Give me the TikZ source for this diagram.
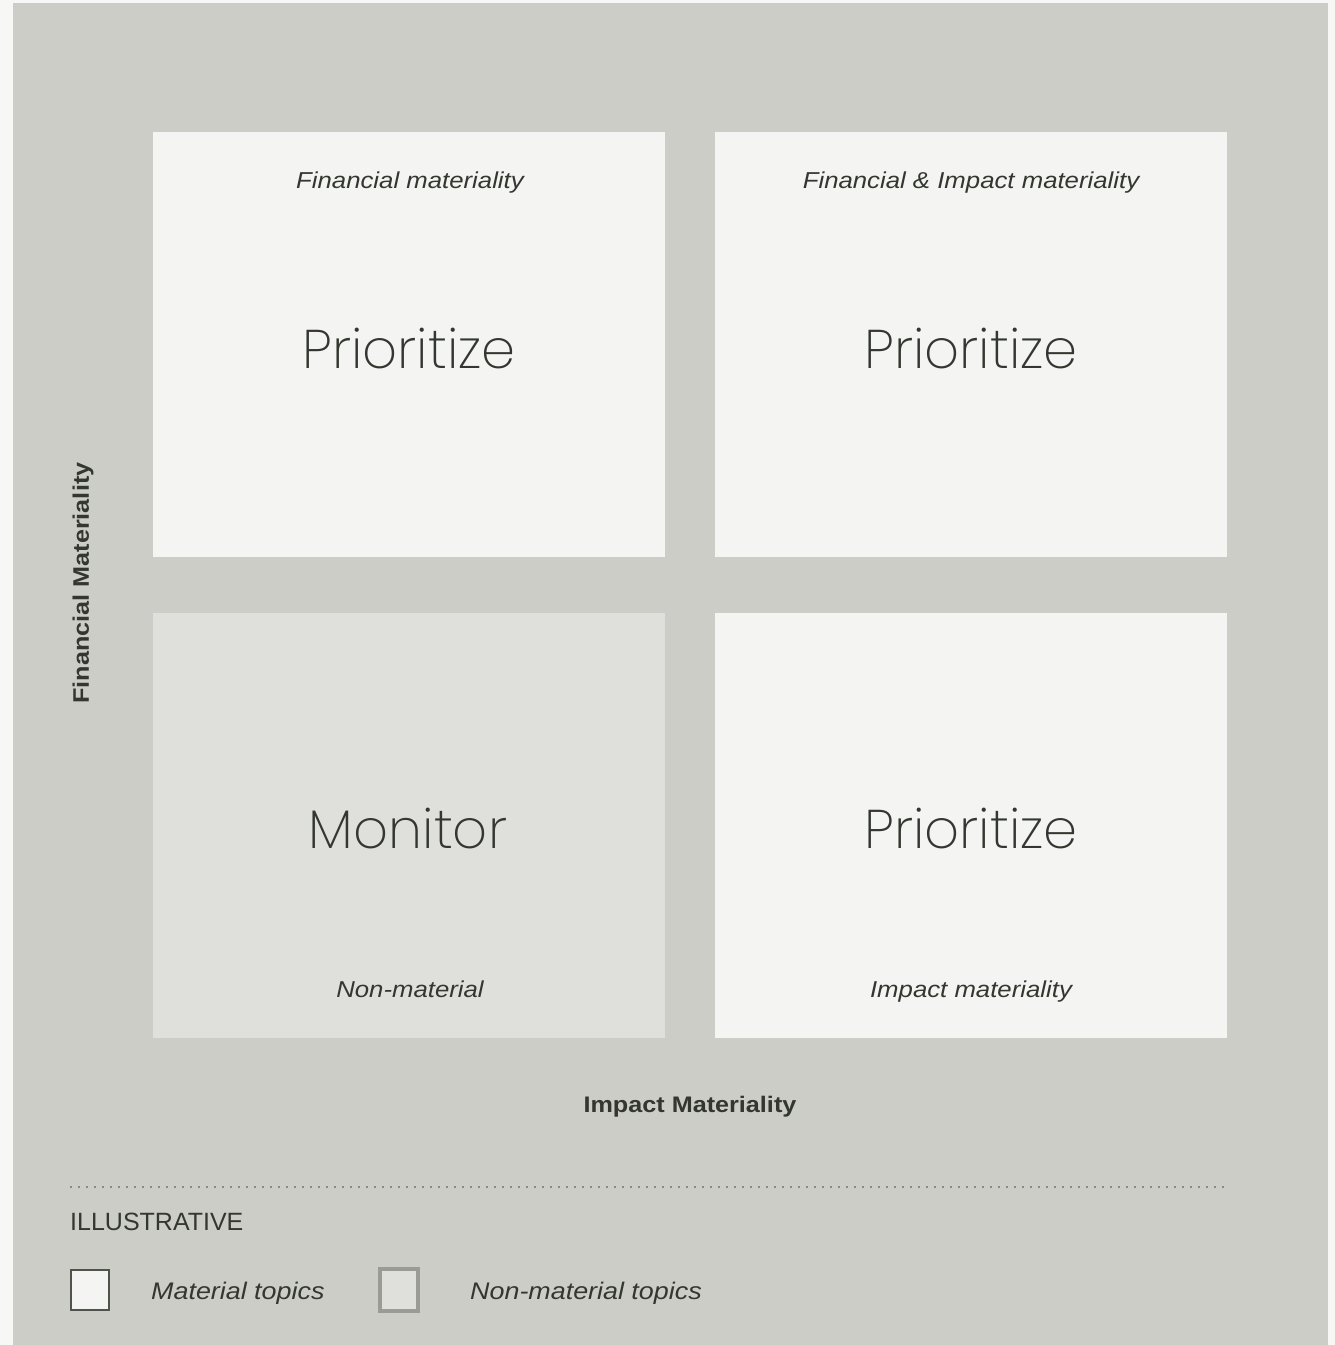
\documentclass[tikz,border=0pt]{standalone}
\usepackage{fontspec}
\setmainfont{Liberation Sans}
\newfontfamily\widefont[FakeStretch=1.12]{Liberation Sans}
\newfontfamily\lightfont{Poppins ExtraLight}
\definecolor{pagebg}{HTML}{F7F7F6}
\definecolor{panel}{HTML}{CCCDC7}
\definecolor{tile}{HTML}{F4F4F2}
\definecolor{tiledark}{HTML}{DFDFDB}
\definecolor{ink}{HTML}{33372F}
\definecolor{dotc}{HTML}{8A8C86}
\definecolor{boxedge}{HTML}{4E534C}
\definecolor{boxedge2}{HTML}{9A9B95}
\begin{document}
\begin{tikzpicture}[x=1pt,y=-1pt,
  quad/.style={fill=tile,draw=none,minimum width=512pt,minimum height=425pt,inner sep=0pt,anchor=north west},
  quaddark/.style={quad,fill=tiledark},
  bigword/.style={font=\lightfont\fontsize{54.5}{58}\selectfont,text=ink},
  sublabel/.style={font=\widefont\itshape\fontsize{23}{27}\selectfont,text=ink,anchor=base},
  legendlabel/.style={font=\widefont\itshape\fontsize{24}{28}\selectfont,text=ink},
  axislabel/.style={font=\widefont\bfseries\fontsize{22.5}{27}\selectfont,text=ink}]
\useasboundingbox (0,0) rectangle (1335,1345);
\fill[pagebg] (0,0) rectangle (1335,1345);
\fill[panel] (13,3) rectangle (1328,1345);
% quadrants
\node[quad] (tl) at (153,132) {};
\node[quad] (tr) at (715,132) {};
\node[quaddark] (bl) at (153,613) {};
\node[quad] (br) at (715,613) {};
% big words
\node[bigword] (ptl) at (409,348) {Prioritize};
\node[bigword] (ptr) at (971,348) {Prioritize};
\node[bigword] (mbl) at (408,828) {Monitor};
\node[bigword] (pbr) at (971,828) {Prioritize};
% sub labels
\node[sublabel] (ltl) at (410,188) {Financial materiality};
\node[sublabel] (ltr) at (971,188) {Financial \& Impact materiality};
\node[sublabel] (lbl) at (410,997) {Non-material};
\node[sublabel] (lbr) at (971,997) {Impact materiality};
% axis labels
\node[axislabel,rotate=90] (yax) at (83,583) {Financial Materiality};
\node[axislabel] (xax) at (690,1107) {Impact Materiality};
% dotted separator
\coordinate (dl) at (70,1187);
\coordinate (dr) at (1228,1187);
\draw[dotc,line width=2pt,dash pattern=on 1.6pt off 6.4pt] (dl) -- (dr);
% legend
\node[anchor=west,font=\fontsize{25}{29}\selectfont,text=ink,inner sep=0pt] (illu) at (70,1222) {ILLUSTRATIVE};
\node[draw=boxedge,line width=2pt,fill=tile,minimum width=38pt,minimum height=40pt,inner sep=0pt] (lg1) at (90,1290) {};
\node[legendlabel,anchor=west,inner sep=0pt] (lt1) at (151,1293) {Material topics};
\node[draw=boxedge2,line width=4pt,fill=tiledark,minimum width=38pt,minimum height=42pt,inner sep=0pt] (lg2) at (399,1290) {};
\node[legendlabel,anchor=west,inner sep=0pt] (lt2) at (470,1293) {Non-material topics};
\end{tikzpicture}
\end{document}
